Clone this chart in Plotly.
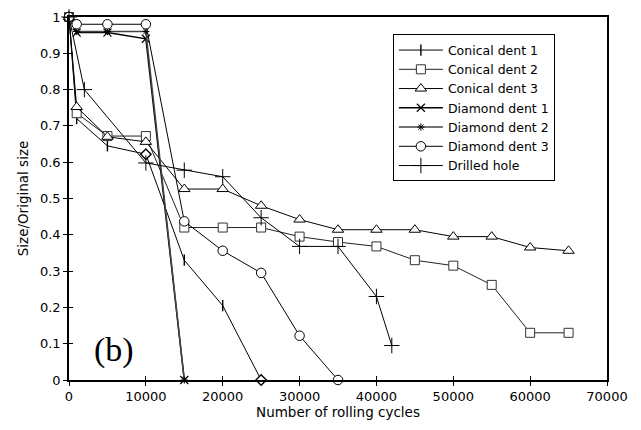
import plotly.graph_objects as go

# ---- data ----
x_long = [0, 1000, 5000, 10000, 15000, 20000, 25000, 30000, 35000, 40000, 45000, 50000, 55000, 60000, 65000]

cd1_x = [0, 1000, 5000, 10000, 15000, 20000, 25000]
cd1_y = [1, 0.72, 0.645, 0.622, 0.33, 0.205, 0]

cd2_x = x_long
cd2_y = [1, 0.735, 0.672, 0.672, 0.42, 0.42, 0.42, 0.395, 0.38, 0.368, 0.33, 0.315, 0.262, 0.13, 0.13]

cd3_x = x_long
cd3_y = [1, 0.752, 0.67, 0.656, 0.526, 0.526, 0.48, 0.442, 0.414, 0.414, 0.414, 0.395, 0.395, 0.365, 0.356]

dd1_x = [0, 1000, 5000, 10000, 15000]
dd1_y = [1, 0.957, 0.957, 0.94, 0]

dd2_x = [0, 1000, 5000, 10000, 15000]
dd2_y = [1, 0.96, 0.96, 0.96, 0]

dd3_x = [0, 1000, 5000, 10000, 15000, 20000, 25000, 30000, 35000]
dd3_y = [1, 0.98, 0.98, 0.98, 0.437, 0.356, 0.295, 0.122, 0]

dh_x = [0, 2000, 10000, 15000, 20000, 25000, 30000, 35000, 40000, 42000]
dh_y = [1, 0.8, 0.598, 0.578, 0.56, 0.447, 0.368, 0.368, 0.23, 0.095]

names = ["Conical dent 1", "Conical dent 2", "Conical dent 3",
         "Diamond dent 1", "Diamond dent 2", "Diamond dent 3", "Drilled hole"]

x_ticks = [0, 10000, 20000, 30000, 40000, 50000, 60000, 70000]
y_ticks = [0, 0.1, 0.2, 0.3, 0.4, 0.5, 0.6, 0.7, 0.8, 0.9, 1]
y_tick_text = ["0", "0.1", "0.2", "0.3", "0.4", "0.5", "0.6", "0.7", "0.8", "0.9", "1"]

FONT = "DejaVu Sans, Liberation Sans, Arial, sans-serif"

fig = go.Figure()

cd1_sym = ["line-ns", "line-ns", "line-ns", "diamond", "line-ns", "line-ns", "diamond"]

fig.add_trace(go.Scatter(
    x=cd1_x, y=cd1_y, name=names[0], mode="lines+markers",
    line=dict(color="black", width=1),
    marker=dict(symbol=cd1_sym, size=8, color="white", line=dict(color="black", width=1.4)),
    cliponaxis=False))
fig.add_trace(go.Scatter(
    x=cd2_x, y=cd2_y, name=names[1], mode="lines+markers",
    line=dict(color="#222222", width=1),
    marker=dict(symbol="square", size=9, color="white", line=dict(color="#333333", width=1)),
    cliponaxis=False))
fig.add_trace(go.Scatter(
    x=cd3_x, y=cd3_y, name=names[2], mode="lines+markers",
    line=dict(color="black", width=1),
    marker=dict(symbol="triangle-up", size=10, color="white", line=dict(color="black", width=1)),
    cliponaxis=False))
fig.add_trace(go.Scatter(
    x=dd1_x, y=dd1_y, name=names[3], mode="lines+markers",
    line=dict(color="black", width=1.5),
    marker=dict(symbol="x-thin", size=8, color="black", line=dict(color="black", width=1.2)),
    cliponaxis=False))
fig.add_trace(go.Scatter(
    x=dd2_x, y=dd2_y, name=names[4], mode="lines+markers",
    line=dict(color="#444444", width=1.5),
    marker=dict(symbol="asterisk", size=6, color="black", line=dict(color="black", width=1)),
    cliponaxis=False))
fig.add_trace(go.Scatter(
    x=dd3_x, y=dd3_y, name=names[5], mode="lines+markers",
    line=dict(color="black", width=1),
    marker=dict(symbol="circle", size=9.5, color="white", line=dict(color="black", width=1)),
    cliponaxis=False))
fig.add_trace(go.Scatter(
    x=dh_x, y=dh_y, name=names[6], mode="lines+markers",
    line=dict(color="black", width=1),
    marker=dict(symbol="cross-thin", size=11, color="black", line=dict(color="black", width=1)),
    cliponaxis=False))

fig.update_layout(
    width=641, height=430,
    margin=dict(l=61, r=42, t=9, b=58, autoexpand=False),
    paper_bgcolor="white", plot_bgcolor="white",
    font=dict(family=FONT, size=13, color="black"),
    showlegend=True,
    legend=dict(x=0.602, y=0.952, xanchor="left", yanchor="top",
                bordercolor="black", borderwidth=1, bgcolor="white",
                font=dict(family=FONT, size=12.5), tracegroupgap=0,
                itemwidth=44),
    xaxis=dict(range=[0, 70000], tickvals=x_ticks, ticktext=[str(v) for v in x_ticks],
               showgrid=False, zeroline=False, showline=True, linecolor="black", linewidth=1.5,
               mirror=True, ticks="outside", ticklen=4, tickcolor="black", automargin=False,
               tickfont=dict(size=13),
               title=dict(text="Number of rolling cycles", font=dict(size=13.5), standoff=4)),
    yaxis=dict(range=[0, 1], tickvals=y_ticks, ticktext=y_tick_text,
               showgrid=False, zeroline=False, showline=True, linecolor="black", linewidth=1.5,
               mirror=True, ticks="outside", ticklen=4, tickcolor="black", automargin=False,
               tickfont=dict(size=13),
               title=dict(text="Size/Original size", font=dict(size=13.5), standoff=8)),
    xaxis2=dict(range=[0, 70000], overlaying="x", anchor="y", side="bottom",
                tickvals=x_ticks, showticklabels=False, ticks="inside", ticklen=4,
                tickcolor="black", showgrid=False, zeroline=False, showline=False,
                automargin=False),
    yaxis2=dict(range=[0, 1], overlaying="y", anchor="x", side="left",
                tickvals=y_ticks, showticklabels=False, ticks="inside", ticklen=4,
                tickcolor="black", showgrid=False, zeroline=False, showline=False,
                automargin=False),
    annotations=[dict(text="(b)", xref="paper", yref="paper", x=0.043, y=0.082,
                      xanchor="left", yanchor="middle", showarrow=False,
                      font=dict(family="Liberation Serif, Times New Roman, serif", size=34))],
)

# invisible trace so the overlay tick axes render
fig.add_trace(go.Scatter(x=[0], y=[0], xaxis="x2", yaxis="y2", mode="markers",
                         marker=dict(opacity=0), showlegend=False, hoverinfo="skip"))

fig.write_html("out.html")
